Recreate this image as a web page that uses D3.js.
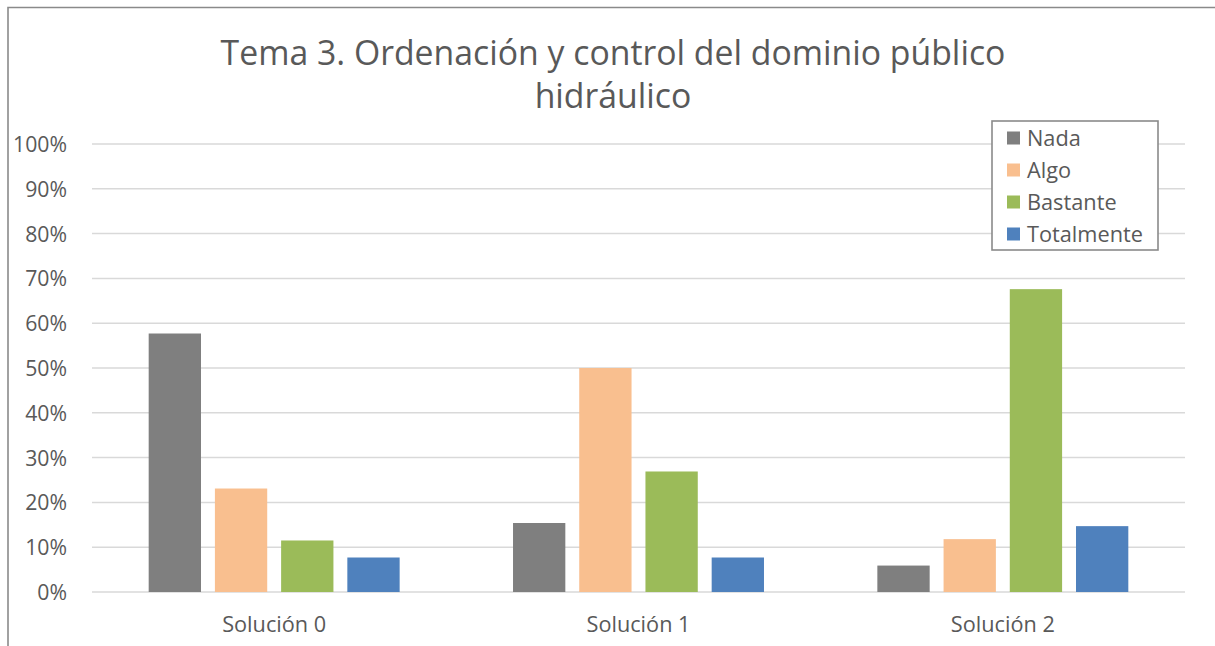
<!DOCTYPE html>
<html><head><meta charset="utf-8">
<script src="https://cdn.jsdelivr.net/npm/d3@7"></script>
<style>body{margin:0;background:#fff;} svg{display:block;}</style>
</head><body>
<svg id="c" width="1215" height="646"></svg>
<script>
const categories = ["Solución 0", "Solución 1", "Solución 2"];
const seriesNames = ["Nada", "Algo", "Bastante", "Totalmente"];
const nada = [0.577, 0.154, 0.059];
const algo = [0.231, 0.500, 0.118];
const bastante = [0.115, 0.269, 0.676];
const totalmente = [0.077, 0.077, 0.147];
const colors = ["#7f7f7f", "#f9bf8f", "#9bbb59", "#4f81bd"];
const yTicks = [0, 0.1, 0.2, 0.3, 0.4, 0.5, 0.6, 0.7, 0.8, 0.9, 1.0];
const titleLines = ["Tema 3. Ordenación y control del dominio público", "hidráulico"];

const seriesValues = [nada, algo, bastante, totalmente];
const font = "'Open Sans', 'Noto Sans', sans-serif";
const txt = "#595959";
const svg = d3.select("#c");

function fit(sel, base, target) {
  sel.attr("font-size", base);
  const w = sel.nodes()[sel.size() - 1].getComputedTextLength();
  sel.attr("font-size", base * target / w);
}

// chart border
svg.append("path").attr("d", "M8,646 V7.5 H1215").attr("fill", "none")
  .attr("stroke", "#8a8a8a").attr("stroke-width", 1.6);

const y = d3.scaleLinear().domain([0, 1]).range([592, 144]);
const x0 = d3.scaleBand().domain(categories).range([92, 1185]).paddingInner(0.273).paddingOuter(0.1365);
const x1 = d3.scaleBand().domain(seriesNames).range([0, x0.bandwidth()]).paddingInner(0.21).paddingOuter(0.105);

// gridlines
svg.append("g").selectAll("line").data(yTicks).join("line")
  .attr("x1", 92).attr("x2", 1185)
  .attr("y1", d => y(d)).attr("y2", d => y(d))
  .attr("stroke", "#d9d9d9").attr("stroke-width", 1.5);

// y axis labels
const yAxis = d3.axisLeft(y).tickValues(yTicks).tickFormat(d3.format(".0%")).tickSize(0).tickPadding(0);
const ya = svg.append("g").attr("transform", "translate(67,0)").call(yAxis);
ya.select(".domain").remove();
const yt = ya.selectAll("text").attr("font-family", font).attr("fill", txt).attr("dy", "0.35em");
fit(yt, 17, 54);

// bars
const groups = svg.append("g").selectAll("g").data(categories).join("g")
  .attr("transform", d => `translate(${x0(d)},0)`);
groups.selectAll("rect").data((d, i) => seriesNames.map((s, j) => ({s, j, v: seriesValues[j][i]})))
  .join("rect")
  .attr("x", d => x1(d.s)).attr("width", x1.bandwidth())
  .attr("y", d => y(d.v)).attr("height", d => y(0) - y(d.v))
  .attr("fill", d => colors[d.j]);

// x axis labels
const xAxis = d3.axisBottom(x0).tickSize(0).tickPadding(0);
const xa = svg.append("g").attr("transform", "translate(0,632)").call(xAxis);
xa.select(".domain").remove();
const xt = xa.selectAll("text").attr("font-family", font).attr("fill", txt).attr("dy", 0);
fit(xt, 17, 104);

// title
const tl = svg.append("g").selectAll("text").data(titleLines).join("text")
  .attr("x", 613).attr("y", (d, i) => 65 + i * 43)
  .attr("text-anchor", "middle").attr("font-family", font)
  .attr("fill", txt).text(d => d);
tl.attr("font-size", 31);
const w = tl.nodes()[0].getComputedTextLength();
tl.attr("font-size", 31 * 785 / w);

// legend
const lg = svg.append("g");
lg.append("rect").attr("x", 992).attr("y", 121).attr("width", 166).attr("height", 129)
  .attr("fill", "#fff").attr("stroke", "#8a8a8a").attr("stroke-width", 1.6);
const li = lg.selectAll("g.it").data(seriesNames).join("g").attr("class", "it")
  .attr("transform", (d, i) => `translate(1007,${138 + i * 32})`);
li.append("rect").attr("x", 0).attr("y", -6.5).attr("width", 13).attr("height", 13)
  .attr("fill", (d, i) => colors[i]);
const lt = li.append("text").attr("x", 20).attr("y", 0).attr("dy", "0.35em")
  .attr("font-family", font).attr("fill", txt).text(d => d);
fit(lt, 17, 116);
</script>
</body></html>
